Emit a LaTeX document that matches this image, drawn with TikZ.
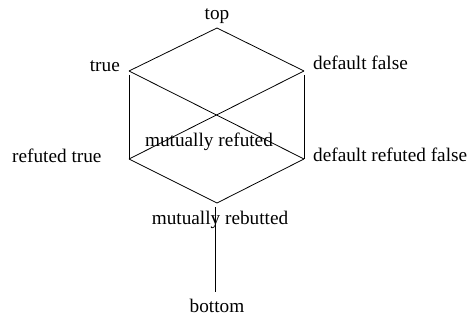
\documentclass[tikz,border=0pt]{standalone}
\usepackage{fontspec}
\setmainfont{Liberation Serif}
\begin{document}
\begin{tikzpicture}[x=1pt,y=1pt,
  edge/.style={draw=black,line width=0.8pt},
  vedge/.style={edge,shorten <=4pt},
  lbl/.style={inner sep=0pt,font=\fontsize{19.25}{23}\selectfont}]
\useasboundingbox (0,0) rectangle (467,320);
% vertices
\coordinate (top) at (217,292);
\coordinate (tru) at (129,249);
\coordinate (df) at (304,249);
\coordinate (mr) at (216.5,205);
\coordinate (rt) at (129,161);
\coordinate (drf) at (304,161);
\coordinate (mb) at (217,117);
\coordinate (bot) at (215,28);
% labels
\node[lbl,anchor=base] (ltop) at (217,300) {top};
\node[lbl,anchor=base east] (ltru) at (120,248) {true};
\node[lbl,anchor=base west] (ldf) at (313,250) {default false};
\node[lbl,anchor=base west] (lrt) at (12,157) {refuted true};
\node[lbl,anchor=base west] (ldrf) at (313,158) {default refuted false};
\node[lbl,anchor=base] (lmr) at (209,173) {mutually refuted};
\node[lbl,anchor=base] (lmb) at (220,95) {mutually rebutted};
\node[lbl,anchor=base] (lbot) at (217,7) {bottom};
% edges
\draw[edge] (top) -- (tru);
\draw[edge] (top) -- (df);
\draw[vedge] (tru) -- (rt);
\draw[vedge] (df) -- (drf);
\draw[edge] (tru) -- (mr);
\draw[edge] (mr) -- (drf);
\draw[edge] (df) -- (mr);
\draw[edge] (mr) -- (rt);
\draw[edge] (rt) -- (mb);
\draw[edge] (drf) -- (mb);
\draw[edge] ([xshift=-2pt,yshift=-4pt]mb) -- (bot);
\end{tikzpicture}
\end{document}
